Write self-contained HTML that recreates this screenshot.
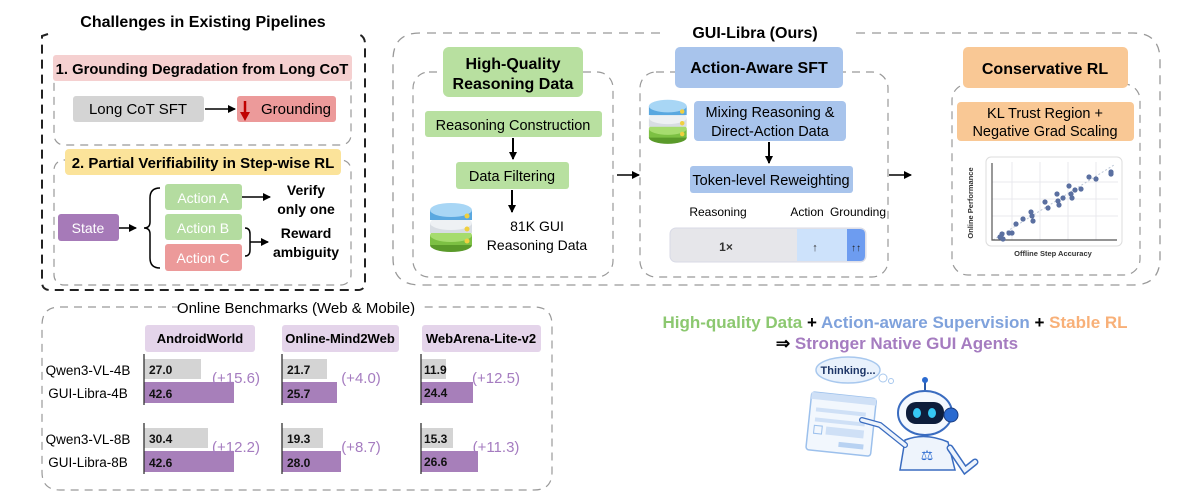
<!DOCTYPE html>
<html><head><meta charset="utf-8"><style>
html,body{margin:0;padding:0;background:#fff;width:1200px;height:502px;overflow:hidden}
svg{display:block;font-family:"Liberation Sans",sans-serif}
</style></head><body>
<svg width="1200" height="502" viewBox="0 0 1200 502" xmlns="http://www.w3.org/2000/svg">
<defs>
<marker id="ah" markerWidth="8" markerHeight="8" refX="7" refY="4" orient="auto" markerUnits="userSpaceOnUse"><path d="M0,0 L8,4 L0,8 z" fill="#000"/></marker>
<g id="db">
<ellipse cx="22" cy="44" rx="21" ry="7" fill="#5a9a2a"/><rect x="1" y="34" width="42" height="10" fill="#7cc043"/><ellipse cx="22" cy="34" rx="21" ry="7" fill="#a6dc6e"/>
<rect x="1" y="22" width="42" height="10" fill="#d8dde3"/><ellipse cx="22" cy="22" rx="21" ry="7" fill="#eef1f4"/>
<rect x="1" y="9" width="42" height="10" fill="#5aa8e0"/><ellipse cx="22" cy="9" rx="21" ry="7" fill="#a8d6f5"/>
<circle cx="38" cy="15" r="2.5" fill="#f0d040"/><circle cx="38" cy="28" r="2.5" fill="#f0d040"/><circle cx="38" cy="40" r="2.5" fill="#f0d040"/>
</g>
</defs>

<!-- Left challenges -->
<text x="203" y="27" font-size="16" font-weight="bold" text-anchor="middle">Challenges in Existing Pipelines</text>
<path d="M48,34 L42,36 L42,282 Q42,290 50,290 L358,290 Q365,290 365,282 L365,44 Q365,36 358,34" fill="none" stroke="#222" stroke-width="2" stroke-dasharray="9,6"/>
<rect x="54" y="70" width="297" height="75" rx="10" fill="none" stroke="#999" stroke-width="1.2" stroke-dasharray="8,6"/>
<rect x="53" y="55" width="299" height="26" rx="3" fill="#f5d0d0"/>
<text x="202" y="74" font-size="14.8" font-weight="bold" text-anchor="middle">1. Grounding Degradation from Long CoT</text>
<rect x="73" y="96" width="131" height="26" rx="3" fill="#d4d4d4"/>
<text x="138" y="114" font-size="15" text-anchor="middle">Long CoT SFT</text>
<line x1="205" y1="109" x2="235" y2="109" stroke="#000" stroke-width="1.5" marker-end="url(#ah)"/>
<rect x="237" y="96" width="99" height="26" rx="3" fill="#ec9a9a"/>
<path d="M245,101 L245,115" stroke="#c00000" stroke-width="2.5"/><path d="M240,112 L245,121 L250,112 z" fill="#c00000"/>
<text x="296" y="114" font-size="15" text-anchor="middle">Grounding</text>

<rect x="54" y="160" width="297" height="125" rx="10" fill="none" stroke="#999" stroke-width="1.2" stroke-dasharray="8,6"/>
<rect x="65" y="149" width="276" height="26" rx="4" fill="#fbe39a"/>
<text x="203" y="168" font-size="15" font-weight="bold" text-anchor="middle">2. Partial Verifiability in Step-wise RL</text>
<rect x="58" y="214" width="61" height="27" rx="3" fill="#a67ab8"/>
<text x="88" y="233" font-size="14" fill="#fff" text-anchor="middle">State</text>
<line x1="119" y1="228" x2="136" y2="228" stroke="#000" stroke-width="1.5" marker-end="url(#ah)"/>
<path d="M160,188 Q150,188 150,198 L150,222 Q150,228 144,228 Q150,228 150,234 L150,258 Q150,268 160,268" fill="none" stroke="#000" stroke-width="1.5"/>
<rect x="165" y="184" width="77" height="26" rx="3" fill="#b4dca0"/><text x="203" y="203" font-size="14" fill="#fff" text-anchor="middle">Action A</text>
<rect x="165" y="214" width="77" height="26" rx="3" fill="#b4dca0"/><text x="203" y="233" font-size="14" fill="#fff" text-anchor="middle">Action B</text>
<rect x="165" y="244" width="77" height="27" rx="3" fill="#ec9a9a"/><text x="203" y="263" font-size="14" fill="#fff" text-anchor="middle">Action C</text>
<line x1="242" y1="197" x2="270" y2="197" stroke="#000" stroke-width="1.5" marker-end="url(#ah)"/>
<path d="M245,228 Q250,228 250,234 L250,250 Q250,256 245,256" fill="none" stroke="#000" stroke-width="1.5"/>
<line x1="250" y1="242" x2="268" y2="242" stroke="#000" stroke-width="1.5" marker-end="url(#ah)"/>
<text x="306" y="195" font-size="14" font-weight="bold" text-anchor="middle">Verify</text>
<text x="306" y="214" font-size="14" font-weight="bold" text-anchor="middle">only one</text>
<text x="306" y="238" font-size="14" font-weight="bold" text-anchor="middle">Reward</text>
<text x="306" y="257" font-size="14" font-weight="bold" text-anchor="middle">ambiguity</text>

<!-- GUI-Libra -->
<path d="M660,33 L420,33 Q393,33 393,60 L393,258 Q393,285 420,285 L1133,285 Q1160,285 1160,258 L1160,60 Q1160,33 1133,33 L850,33" fill="none" stroke="#999" stroke-width="1.3" stroke-dasharray="9,7"/>
<text x="755" y="38" font-size="16" font-weight="bold" text-anchor="middle">GUI-Libra (Ours)</text>

<rect x="413" y="72" width="200" height="205" rx="16" fill="none" stroke="#999" stroke-width="1.2" stroke-dasharray="8,6"/>
<rect x="443" y="47" width="140" height="50" rx="6" fill="#b8e0a0"/>
<text x="513" y="69" font-size="16" font-weight="bold" text-anchor="middle">High-Quality</text>
<text x="513" y="89" font-size="16" font-weight="bold" text-anchor="middle">Reasoning Data</text>
<rect x="425" y="111" width="177" height="26" rx="3" fill="#b8e0a0"/>
<text x="513" y="130" font-size="14.5" text-anchor="middle">Reasoning Construction</text>
<line x1="513" y1="138" x2="513" y2="159" stroke="#000" stroke-width="2" marker-end="url(#ah)"/>
<rect x="456" y="162" width="113" height="27" rx="3" fill="#b8e0a0"/>
<text x="512" y="181" font-size="14.5" text-anchor="middle">Data Filtering</text>
<line x1="512" y1="190" x2="512" y2="212" stroke="#000" stroke-width="2" marker-end="url(#ah)"/>
<use href="#db" x="429" y="201"/>
<text x="537" y="231" font-size="14" text-anchor="middle">81K GUI</text>
<text x="537" y="250" font-size="14" text-anchor="middle">Reasoning Data</text>
<line x1="617" y1="175" x2="639" y2="175" stroke="#000" stroke-width="1.5" marker-end="url(#ah)"/>

<rect x="640" y="72" width="248" height="205" rx="16" fill="none" stroke="#999" stroke-width="1.2" stroke-dasharray="8,6"/>
<rect x="675" y="47" width="168" height="41" rx="5" fill="#a8c4ec"/>
<text x="759" y="73" font-size="16" font-weight="bold" text-anchor="middle">Action-Aware SFT</text>
<use href="#db" transform="translate(648,98) scale(0.9)"/>
<rect x="694" y="101" width="152" height="40" rx="4" fill="#a8c4ec"/>
<text x="770" y="117" font-size="14.5" text-anchor="middle">Mixing Reasoning &amp;</text>
<text x="770" y="136" font-size="14.5" text-anchor="middle">Direct-Action Data</text>
<line x1="769" y1="142" x2="769" y2="163" stroke="#000" stroke-width="2" marker-end="url(#ah)"/>
<rect x="690" y="166" width="163" height="27" rx="3" fill="#a8c4ec"/>
<text x="771" y="185" font-size="14.5" text-anchor="middle">Token-level Reweighting</text>
<text x="718" y="216" font-size="12" text-anchor="middle">Reasoning</text>
<text x="807" y="216" font-size="12" text-anchor="middle">Action</text>
<text x="858" y="216" font-size="12" text-anchor="middle">Grounding</text>
<rect x="670" y="228" width="196" height="34" rx="6" fill="#e6e6ea" stroke="#d8dae6"/>
<rect x="797" y="229" width="50" height="32" fill="#cde2fb"/>
<path d="M847,229 L860,229 Q865,229 865,234 L865,256 Q865,261 860,261 L847,261 z" fill="#6d9cf0"/>
<text x="726" y="251" font-size="12" font-weight="bold" text-anchor="middle" fill="#333">1×</text>
<text x="815" y="251" font-size="11" font-weight="bold" text-anchor="middle" fill="#333">↑</text>
<text x="856" y="251" font-size="10" font-weight="bold" text-anchor="middle" fill="#222">↑↑</text>
<line x1="889" y1="175" x2="911" y2="175" stroke="#000" stroke-width="1.5" marker-end="url(#ah)"/>

<rect x="952" y="84" width="188" height="191" rx="16" fill="none" stroke="#999" stroke-width="1.2" stroke-dasharray="8,6"/>
<rect x="963" y="47" width="165" height="41" rx="5" fill="#f9c895"/>
<text x="1045" y="74" font-size="16" font-weight="bold" text-anchor="middle">Conservative RL</text>
<rect x="957" y="102" width="177" height="39" rx="4" fill="#f9c895"/>
<text x="1045" y="118" font-size="14.5" text-anchor="middle">KL Trust Region +</text>
<text x="1045" y="136" font-size="14.5" text-anchor="middle">Negative Grad Scaling</text>
<rect x="986" y="157" width="136" height="89" rx="5" fill="#fff" stroke="#ddd"/>
<g stroke="#e8e8ee" stroke-width="1">
<line x1="1012" y1="162" x2="1012" y2="240"/><line x1="1040" y1="162" x2="1040" y2="240"/><line x1="1068" y1="162" x2="1068" y2="240"/><line x1="1096" y1="162" x2="1096" y2="240"/>
<line x1="992" y1="182" x2="1118" y2="182"/><line x1="992" y1="199" x2="1118" y2="199"/><line x1="992" y1="216" x2="1118" y2="216"/>
</g>
<line x1="993" y1="240" x2="1114" y2="165" stroke="#bcc6d6" stroke-dasharray="2,2"/>
<path d="M992,163 L992,240 L1117,240" fill="none" stroke="#555" stroke-width="1.2"/>
<g fill="#5a6fa0">
<circle cx="1000" cy="237" r="2.6"/><circle cx="1002" cy="234" r="2.6"/><circle cx="1003" cy="239" r="2.6"/><circle cx="1009" cy="233" r="2.6"/><circle cx="1012" cy="233" r="2.6"/><circle cx="1016" cy="224" r="2.6"/><circle cx="1023" cy="219" r="2.6"/><circle cx="1031" cy="212" r="2.6"/><circle cx="1032" cy="216" r="2.6"/><circle cx="1033" cy="221" r="2.6"/><circle cx="1045" cy="202" r="2.6"/><circle cx="1048" cy="208" r="2.6"/><circle cx="1057" cy="194" r="2.6"/><circle cx="1058" cy="201" r="2.6"/><circle cx="1059" cy="205" r="2.6"/><circle cx="1063" cy="198" r="2.6"/><circle cx="1069" cy="186" r="2.6"/><circle cx="1071" cy="194" r="2.6"/><circle cx="1072" cy="198" r="2.6"/><circle cx="1075" cy="190" r="2.6"/><circle cx="1081" cy="189" r="2.6"/><circle cx="1089" cy="177" r="2.6"/><circle cx="1096" cy="179" r="2.6"/><circle cx="1111" cy="174" r="2.6"/><circle cx="1111" cy="172" r="2.6"/>
</g>
<text x="1053" y="256" font-size="7.5" font-weight="bold" text-anchor="middle" fill="#333">Offline Step Accuracy</text>
<text transform="translate(973,203) rotate(-90)" font-size="7.5" font-weight="bold" text-anchor="middle" fill="#333">Online Performance</text>

<!-- Benchmarks -->
<path d="M180,307 L60,307 Q42,307 42,325 L42,472 Q42,490 60,490 L534,490 Q552,490 552,472 L552,325 Q552,307 534,307 L420,307" fill="none" stroke="#999" stroke-width="1.2" stroke-dasharray="8,6"/>
<text x="296" y="313" font-size="15" text-anchor="middle">Online Benchmarks (Web &amp; Mobile)</text>
<rect x="145" y="325" width="110" height="27" rx="3" fill="#e4d4ea"/><text x="200" y="343" font-size="13" font-weight="bold" text-anchor="middle">AndroidWorld</text>
<rect x="282" y="325" width="117" height="27" rx="3" fill="#e4d4ea"/><text x="340" y="343" font-size="13" font-weight="bold" text-anchor="middle">Online-Mind2Web</text>
<rect x="422" y="325" width="119" height="27" rx="3" fill="#e4d4ea"/><text x="481" y="343" font-size="13" font-weight="bold" text-anchor="middle">WebArena-Lite-v2</text>
<g font-size="13.5" text-anchor="middle">
<text x="88" y="375">Qwen3-VL-4B</text><text x="88" y="398">GUI-Libra-4B</text>
<text x="88" y="444">Qwen3-VL-8B</text><text x="88" y="467">GUI-Libra-8B</text>
</g>
<g fill="#d4d4d4">
<rect x="144" y="359" width="57" height="20"/><rect x="144" y="428" width="64" height="20"/>
<rect x="282" y="359" width="45" height="20"/><rect x="282" y="428" width="41" height="20"/>
<rect x="421" y="359" width="25" height="20"/><rect x="421" y="428" width="32" height="20"/>
</g>
<g fill="#a77fba">
<rect x="144" y="382" width="90" height="21"/><rect x="144" y="451" width="90" height="21"/>
<rect x="282" y="382" width="55" height="21"/><rect x="282" y="451" width="59" height="21"/>
<rect x="421" y="382" width="52" height="21"/><rect x="421" y="451" width="57" height="21"/>
</g>
<g stroke="#333" stroke-width="1.3">
<line x1="144" y1="354" x2="144" y2="405"/><line x1="144" y1="423" x2="144" y2="474"/>
<line x1="282" y1="354" x2="282" y2="405"/><line x1="282" y1="423" x2="282" y2="474"/>
<line x1="421" y1="354" x2="421" y2="405"/><line x1="421" y1="423" x2="421" y2="474"/>
</g>
<g font-size="12" font-weight="bold" fill="#111">
<text x="149" y="374">27.0</text><text x="149" y="398">42.6</text><text x="149" y="443">30.4</text><text x="149" y="467">42.6</text>
<text x="287" y="374">21.7</text><text x="287" y="398">25.7</text><text x="287" y="443">19.3</text><text x="287" y="467">28.0</text>
<text x="424" y="374">11.9</text><text x="424" y="397">24.4</text><text x="424" y="443">15.3</text><text x="424" y="466">26.6</text>
</g>
<g font-size="15" fill="#a57cc0" text-anchor="middle">
<text x="236" y="383">(+15.6)</text><text x="361" y="383">(+4.0)</text><text x="496" y="383">(+12.5)</text>
<text x="236" y="452">(+12.2)</text><text x="361" y="452">(+8.7)</text><text x="496" y="452">(+11.3)</text>
</g>

<!-- Slogan -->
<text x="895" y="328" font-size="17" font-weight="bold" text-anchor="middle"><tspan fill="#8cc870">High-quality Data</tspan><tspan fill="#000"> + </tspan><tspan fill="#7fa2dc">Action-aware Supervision</tspan><tspan fill="#000"> + </tspan><tspan fill="#f8b078">Stable RL</tspan></text>
<text x="897" y="349" font-size="17" font-weight="bold" text-anchor="middle"><tspan fill="#000">⇒ </tspan><tspan fill="#a57cc0">Stronger Native GUI Agents</tspan></text>

<!-- Robot illustration -->
<ellipse cx="848" cy="370" rx="32" ry="13" fill="#e8f1fc" stroke="#a8c8ee" stroke-width="1.5"/>
<circle cx="883" cy="378" r="4" fill="#fff" stroke="#a8c8ee"/><circle cx="891" cy="381" r="2.5" fill="#fff" stroke="#a8c8ee"/>
<text x="848" y="374" font-size="11" font-weight="bold" text-anchor="middle" fill="#1d3566">Thinking...</text>
<g transform="rotate(6 840 430)">
<rect x="808" y="395" width="65" height="58" rx="3" fill="#f2f7fd" stroke="#9cc0ec" stroke-width="1.5"/>
<rect x="808" y="395" width="65" height="7" fill="#cfe0f6"/>
<rect x="814" y="410" width="50" height="4" fill="#cfe0f6"/><rect x="814" y="420" width="50" height="4" fill="#cfe0f6"/>
<rect x="814" y="428" width="8" height="8" fill="none" stroke="#9cc0ec"/><rect x="826" y="428" width="38" height="8" fill="#cfe0f6"/>
<rect x="840" y="442" width="25" height="5" fill="#b8d2f2"/>
</g>
<line x1="925" y1="382" x2="925" y2="397" stroke="#2a5aa8" stroke-width="2"/><circle cx="925" cy="380" r="3" fill="#2a6ad0"/>
<ellipse cx="925" cy="413" rx="27" ry="22" fill="#f4f8fe" stroke="#3a6cc0" stroke-width="2"/>
<rect x="906" y="402" width="38" height="22" rx="10" fill="#0e1e3c"/>
<ellipse cx="917" cy="413" rx="4" ry="5" fill="#36c8f5"/><ellipse cx="932" cy="413" rx="4" ry="5" fill="#36c8f5"/>
<circle cx="951" cy="415" r="7" fill="#2a6ad0" stroke="#1a3c80"/>
<path d="M905,440 Q925,432 948,442 L955,470 L900,470 z" fill="#eef4fc" stroke="#3a6cc0" stroke-width="1.5"/>
<path d="M905,445 L880,425 L862,420" stroke="#3a6cc0" stroke-width="6" fill="none" stroke-linecap="round"/>
<path d="M905,445 L880,425 L862,420" stroke="#eef4fc" stroke-width="3.5" fill="none" stroke-linecap="round"/>
<path d="M950,448 L965,470 L975,462" stroke="#3a6cc0" stroke-width="7" fill="none" stroke-linecap="round"/>
<path d="M950,448 L965,470 L975,462" stroke="#eef4fc" stroke-width="4" fill="none" stroke-linecap="round"/>
<text x="927" y="460" font-size="14" fill="#2a6ad0" text-anchor="middle">⚖</text>
</svg>
</body></html>
